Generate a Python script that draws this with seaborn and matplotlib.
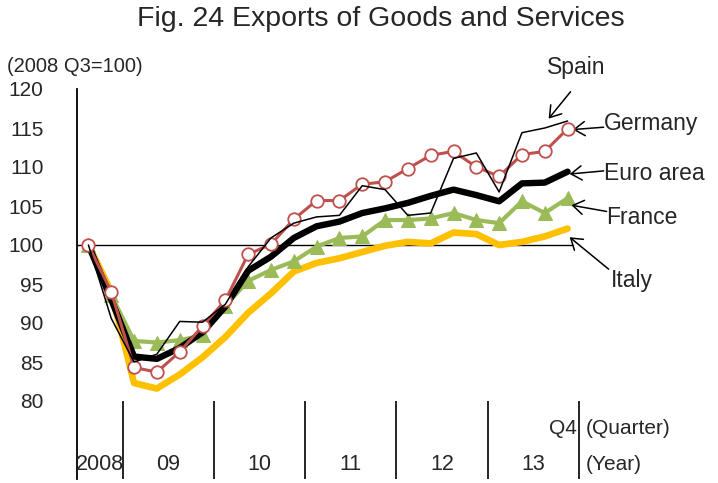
import matplotlib
matplotlib.use("Agg")
import matplotlib.pyplot as plt
import seaborn as sns
import pandas as pd

# 2008 Q3 .. 2013 Q4, index 2008 Q3 = 100
quarters = list(range(22))
germany = [100, 94.0, 84.3, 83.7, 86.3, 89.6, 92.9, 98.8, 100.1, 103.3, 105.7,
           105.7, 107.8, 108.1, 109.8, 111.5, 112.0, 110.0, 108.8, 111.6, 112.0, 114.9]
spain = [100, 90.6, 85.0, 86.0, 90.2, 90.1, 92.4, 97.2, 100.9, 102.8, 103.6,
         103.8, 107.6, 107.1, 103.8, 104.1, 111.1, 111.8, 106.8, 114.4, 115.0, 115.9]
euro_area = [100, 93.0, 85.7, 85.4, 86.8, 88.8, 92.1, 96.7, 98.5, 100.9, 102.4,
             103.0, 104.1, 104.7, 105.4, 106.3, 107.1, 106.4, 105.6, 107.9, 108.0, 109.4]
france = [100, 93.6, 87.7, 87.5, 87.8, 88.4, 92.2, 95.4, 96.8, 97.9, 99.8,
          100.9, 101.1, 103.2, 103.2, 103.4, 104.1, 103.2, 102.8, 105.6, 104.1, 106.0]
italy = [100, 94.0, 82.3, 81.6, 83.4, 85.6, 88.2, 91.3, 93.8, 96.6, 97.7,
         98.3, 99.1, 99.9, 100.4, 100.2, 101.6, 101.4, 100.0, 100.4, 101.1, 102.1]

year_labels = ["2008", "09", "10", "11", "12", "13"]
year_centers = [0.5, 3.5, 7.5, 11.5, 15.5, 19.5]
year_breaks = [1.5, 5.5, 9.5, 13.5, 17.5, 21.5]
y_ticks = [80, 85, 90, 95, 100, 105, 110, 115, 120]

sns.set_style("white")
plt.rcParams["font.family"] = ["Liberation Sans", "DejaVu Sans"]

df = pd.DataFrame({"q": quarters, "Germany": germany, "Spain": spain,
                   "Euro area": euro_area, "France": france, "Italy": italy})

fig = plt.figure(figsize=(7.18, 4.83), dpi=100)
ax = fig.add_axes([77 / 718, 1 - 479 / 483, 502 / 718, 390 / 483])

ax.hlines(100, -0.5, 21.25, color="black", lw=1.0, zorder=1)

sns.lineplot(data=df, x="q", y="Italy", ax=ax, color="#FFC000", lw=4.8, zorder=2)
sns.lineplot(data=df, x="q", y="France", ax=ax, color="#9BBB59", lw=3.0,
             marker="^", markersize=10.5, markeredgecolor="#9BBB59", zorder=3)
sns.lineplot(data=df, x="q", y="Euro area", ax=ax, color="black", lw=4.6, zorder=4)
sns.lineplot(data=df, x="q", y="Germany", ax=ax, color="#C0504D", lw=2.2,
             marker="o", markersize=9, markerfacecolor="white",
             markeredgecolor="#C0504D", markeredgewidth=1.3, zorder=5)
sns.lineplot(data=df, x="q", y="Spain", ax=ax, color="black", lw=1.1, zorder=6)

ax.set_xlim(-0.5, 21.5)
ax.set_ylim(70, 120)
ax.set_yticks(y_ticks)
ax.set_yticklabels([str(t) for t in y_ticks])
ax.set_xticks([])
ax.set_xlabel("")
ax.set_ylabel("")
ax.tick_params(axis="y", direction="in", length=5, width=1.2, labelsize=15, pad=24)
for s in ["top", "right", "bottom"]:
    ax.spines[s].set_visible(False)
ax.spines["left"].set_linewidth(1.3)
ax.spines["left"].set_color("black")

ax.vlines(year_breaks, 70, 80, color="black", lw=1.2, clip_on=False)
for lab, xc in zip(year_labels, year_centers):
    ax.text(xc, 71.8, lab, ha="center", va="center", fontsize=15.5)
ax.text(21.42, 76.5, "Q4", ha="right", va="center", fontsize=15)
ax.text(21.8, 76.5, "(Quarter)", ha="left", va="center", fontsize=15, clip_on=False)
ax.text(21.8, 71.8, "(Year)", ha="left", va="center", fontsize=15, clip_on=False)

# series labels with arrows
labels = [
    ("Spain", (21.4, 122.7), "center", (21.13, 119.65), (20.17, 116.2)),
    ("Germany", (22.6, 115.6), "left", (22.58, 115.1), (21.23, 114.8)),
    ("Euro area", (22.6, 109.2), "left", (22.58, 109.5), (21.09, 109.1)),
    ("France", (22.7, 103.5), "left", (22.71, 104.3), (21.17, 105.1)),
    ("Italy", (22.9, 95.5), "left", (22.8, 96.9), (21.09, 101.0)),
]
for name, pos, ha, tail, head in labels:
    ax.text(pos[0], pos[1], name, ha=ha, va="center", fontsize=16.5, clip_on=False)
    ax.annotate("", xy=head, xytext=tail, annotation_clip=False,
                arrowprops=dict(arrowstyle="->,head_length=0.45,head_width=0.3",
                                lw=1.1, color="black", mutation_scale=17,
                                shrinkA=0, shrinkB=0))

fig.text(381 / 718, 1 - 19 / 483, "Fig. 24 Exports of Goods and Services",
         ha="center", va="center", fontsize=20.5)
fig.text(7 / 718, 1 - 67 / 483, "(2008 Q3=100)", ha="left", va="center", fontsize=14.5)

fig.savefig("out.png", dpi=100)
